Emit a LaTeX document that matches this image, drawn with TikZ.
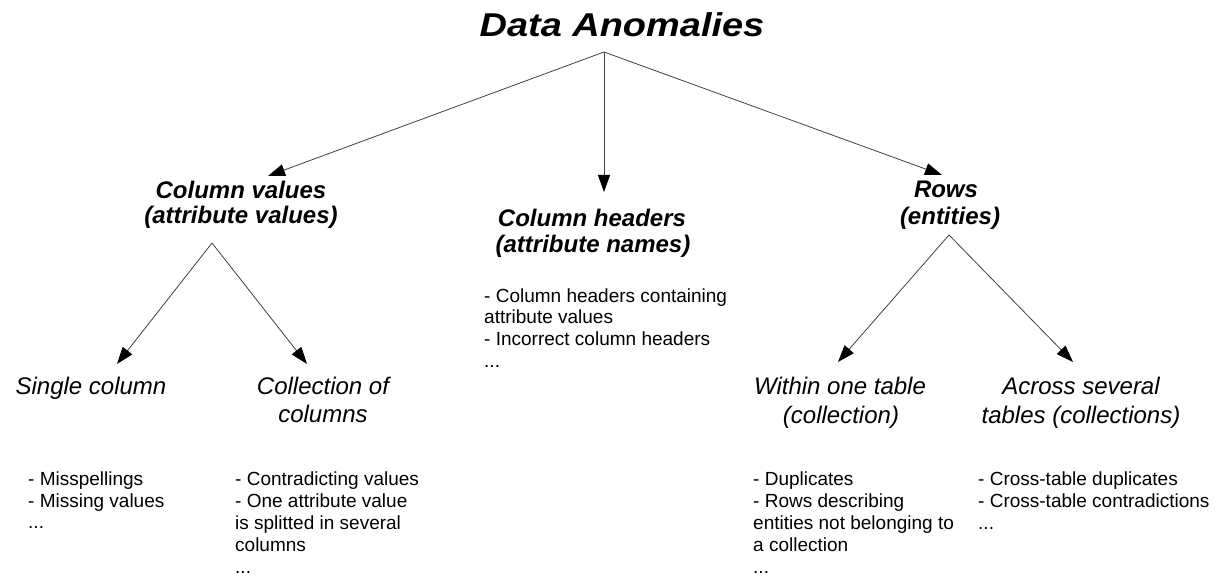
\documentclass[tikz,border=0pt]{standalone}
\usepackage{graphicx}
\usepackage{fontspec}
\setmainfont{Liberation Sans}
\usetikzlibrary{arrows.meta}
\begin{document}
\begin{tikzpicture}[x=1pt,y=-1pt,
  titlefont/.style={font=\fontsize{33}{40}\selectfont\bfseries\itshape, inner sep=0pt, anchor=base},
  headtext/.style={font=\fontsize{24}{29}\selectfont\bfseries\itshape, inner sep=0pt, anchor=base},
  subtext/.style={font=\fontsize{24}{29}\selectfont\itshape, inner sep=0pt, anchor=base},
  bodytext/.style={font=\fontsize{19}{22}\selectfont, inner sep=0pt, anchor=base west},
  arr/.style={draw=black!75, line width=0.8pt, -{Triangle[length=17pt,width=12pt,fill=black,color=black]}}]
\useasboundingbox (0,0) rectangle (1218,580);

% title
\node[titlefont] (title) at (622,37) {\scalebox{1.15}[1]{Data Anomalies}};

% level 1 headings
\node[headtext] (cv1) at (241,199) {Column values};
\node[headtext] (cv2) at (241,223) {(attribute values)};
\node[headtext] (ch1) at (592,226) {Column headers};
\node[headtext] (ch2) at (593,252) {(attribute names)};
\node[headtext] (rw1) at (946,198) {Rows};
\node[headtext] (rw2) at (950,225) {(entities)};

% level 2 headings
\node[subtext] (sc1) at (91,394) {Single column};
\node[subtext] (cc1) at (323,394) {Collection of};
\node[subtext] (cc2) at (323,422) {columns};
\node[subtext] (wt1) at (840,394) {Within one table};
\node[subtext] (wt2) at (841,423) {(collection)};
\node[subtext] (at1) at (1081,394) {Across several};
\node[subtext] (at2) at (1081,423) {tables (collections)};

% body texts
\node[bodytext] (sb1) at (28,485) {- Misspellings};
\node[bodytext] (sb2) at (28,507) {- Missing values};
\node[bodytext] (sb3) at (28,528) {...};

\node[bodytext] (cb1) at (235,485) {- Contradicting values};
\node[bodytext] (cb2) at (235,507) {- One attribute value};
\node[bodytext] (cb3) at (235,529) {is splitted in several};
\node[bodytext] (cb4) at (235,551) {columns};
\node[bodytext] (cb5) at (235,573) {...};

\node[bodytext] (hb1) at (484,302) {- Column headers containing};
\node[bodytext] (hb2) at (484,323) {attribute values};
\node[bodytext] (hb3) at (484,345) {- Incorrect column headers};
\node[bodytext] (hb4) at (484,367) {...};

\node[bodytext] (wb1) at (753,485) {- Duplicates};
\node[bodytext] (wb2) at (753,507) {- Rows describing};
\node[bodytext] (wb3) at (753,529) {entities not belonging to};
\node[bodytext] (wb4) at (753,551) {a collection};
\node[bodytext] (wb5) at (753,573) {...};

\node[bodytext] (ab1) at (978,485) {- Cross-table duplicates};
\node[bodytext] (ab2) at (978,507) {- Cross-table contradictions};
\node[bodytext] (ab3) at (978,529) {...};

% connector points
\coordinate (rootfork) at (604,52);
\coordinate (cvin) at (268,176);
\coordinate (chin) at (604,192);
\coordinate (rwin) at (942,175);
\coordinate (cvfork) at (212,243);
\coordinate (scin) at (117,364);
\coordinate (ccin) at (307,364);
\coordinate (rwfork) at (949,235);
\coordinate (wtin) at (838,362);
\coordinate (atin) at (1073,362);

\draw[arr] (rootfork) -- (cvin);
\draw[arr] (rootfork) -- (chin);
\draw[arr] (rootfork) -- (rwin);
\draw[arr] (cvfork) -- (scin);
\draw[arr] (cvfork) -- (ccin);
\draw[arr] (rwfork) -- (wtin);
\draw[arr] (rwfork) -- (atin);
\end{tikzpicture}
\end{document}
